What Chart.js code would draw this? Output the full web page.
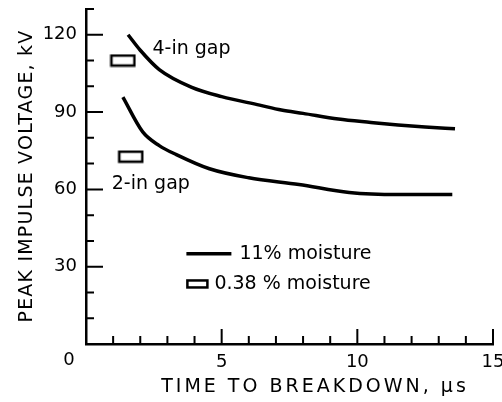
<!DOCTYPE html>
<html>
<head>
<meta charset="utf-8">
<script src="https://cdn.jsdelivr.net/npm/chart.js@4.4.1/dist/chart.umd.min.js"></script>
<style>
  html, body { margin: 0; padding: 0; background: #fff; }
</style>
</head>
<body>
<canvas id="chart" width="502" height="402"></canvas>
<script>
// 11% moisture curves
const gap4Time = [1.55, 2.0, 2.7, 3.9, 5.0, 6.4, 7.2, 8.0, 9.3, 10.5, 11.5, 12.5, 13.6];
const gap4Volt = [120, 114, 106.5, 99.6, 96, 92.7, 90.8, 89.5, 87.3, 86, 85, 84.2, 83.5];
const gap2Time = [1.36, 2.09, 2.7, 3.33, 4.55, 6.0, 7.85, 9.7, 11.5, 13.5];
const gap2Volt = [95.8, 82.3, 77, 73.5, 68, 64.5, 61.9, 58.8, 58, 58];
// 0.38% moisture points
const dryTime = [1.36, 1.65];
const dryVolt = [110, 72.7];
// axis labels
const xLabelValues = [5, 10, 15];
const yLabelValues = [30, 60, 90, 120];

const toPts = (xs, ys) => xs.map((x, i) => ({x: x, y: ys[i]}));

function rectMarker(w, h) {
    const c = document.createElement('canvas');
    c.width = w + 4;
    c.height = h + 4;
    const g = c.getContext('2d');
    g.lineWidth = 2.5;
    g.strokeStyle = '#000';
    g.strokeRect(2, 2, w, h);
    return c;
}

Chart.defaults.font.family = 'DejaVu Sans';
Chart.defaults.color = '#000';

// ticks point inward, like the original plot
const innerTicks = {
    id: 'innerTicks',
    afterDraw(chart) {
        const ctx = chart.ctx;
        const xs = chart.scales.x, ys = chart.scales.y;
        const left = xs.left, bottom = ys.bottom;
        ctx.save();
        ctx.strokeStyle = '#000';
        ctx.lineWidth = 2;
        ctx.beginPath();
        for (let v = 1; v <= 15; v++) {
            const px = xs.getPixelForValue(v);
            const len = v % 5 === 0 ? 15 : 8;
            ctx.moveTo(px, bottom);
            ctx.lineTo(px, bottom - len);
        }
        for (let v = 10; v <= 130; v += 10) {
            const py = ys.getPixelForValue(v);
            const len = v % 30 === 0 ? 17 : 8;
            ctx.moveTo(left, py);
            ctx.lineTo(left + len, py);
        }
        ctx.stroke();
        ctx.restore();
    }
};

const extras = {
    id: 'extras',
    afterDraw(chart) {
        const ctx = chart.ctx;
        const xs = chart.scales.x, ys = chart.scales.y;
        const a = chart.chartArea;
        ctx.save();
        ctx.strokeStyle = '#000';
        ctx.fillStyle = '#000';
        // origin label
        ctx.font = '18px "DejaVu Sans"';
        ctx.textAlign = 'center';
        ctx.textBaseline = 'middle';
        ctx.fillText('0', xs.getPixelForValue(0) - 17, a.bottom + 16);

        // curve labels
        ctx.font = '19px "DejaVu Sans"';
        ctx.textAlign = 'left';
        ctx.fillText('4-in gap', xs.getPixelForValue(2.45), ys.getPixelForValue(114.5));
        ctx.fillText('2-in gap', xs.getPixelForValue(0.95), ys.getPixelForValue(62));

        // legend
        const lx = xs.getPixelForValue(3.7);
        const ly1 = ys.getPixelForValue(35);
        ctx.lineWidth = 3.5;
        ctx.beginPath();
        ctx.moveTo(lx, ly1);
        ctx.lineTo(lx + 45, ly1);
        ctx.stroke();
        ctx.fillText('11% moisture', lx + 53, ly1);
        const ly2 = ys.getPixelForValue(23.3);
        ctx.lineWidth = 2.5;
        ctx.strokeRect(lx + 1, ly2 - 3.5, 20, 7);
        ctx.fillText('0.38 % moisture', lx + 28, ly2);

        // axis titles
        ctx.font = '19px "DejaVu Sans"';
        ctx.letterSpacing = '3px';
        ctx.textAlign = 'center';
        ctx.fillText('TIME TO BREAKDOWN, \u03bcs', 315, 387);
        ctx.letterSpacing = '1.2px';
        ctx.translate(27, 176);
        ctx.rotate(-Math.PI / 2);
        ctx.fillText('PEAK IMPULSE VOLTAGE, kV', 0, 0);
        ctx.restore();
    }
};

new Chart(document.getElementById('chart'), {
    type: 'line',
    data: {
        datasets: [{
            label: '4-in gap',
            data: toPts(gap4Time, gap4Volt),
            borderColor: '#000',
            borderWidth: 3.5,
            pointRadius: 0,
            cubicInterpolationMode: 'monotone',
            fill: false
        }, {
            label: '2-in gap',
            data: toPts(gap2Time, gap2Volt),
            borderColor: '#000',
            borderWidth: 3.5,
            pointRadius: 0,
            cubicInterpolationMode: 'monotone',
            fill: false
        }, {
            label: '0.38 % moisture',
            data: toPts(dryTime, dryVolt),
            showLine: false,
            pointStyle: rectMarker(23, 10),
            pointRadius: 8,
            borderColor: '#000',
            backgroundColor: '#fff'
        }]
    },
    options: {
        responsive: false,
        animation: false,
        layout: {padding: {top: 6, right: 7, left: 0, bottom: 0}},
        plugins: {
            legend: {display: false},
            tooltip: {enabled: false}
        },
        scales: {
            x: {
                type: 'linear',
                min: 0,
                max: 15,
                afterFit: s => { s.height = 58; s.paddingLeft = 0; s.paddingRight = 0; },
                grid: {drawOnChartArea: false, drawTicks: false, color: 'rgba(0,0,0,0)'},
                border: {display: true, color: '#000', width: 2.5},
                ticks: {
                    stepSize: 5,
                    padding: 8,
                    font: {size: 18},
                    callback: v => xLabelValues.includes(v) ? String(v) : ''
                }
            },
            y: {
                min: 0,
                max: 130,
                afterFit: s => { s.width = 86; s.paddingTop = 0; s.paddingBottom = 0; },
                grid: {drawOnChartArea: false, drawTicks: false, color: 'rgba(0,0,0,0)'},
                border: {display: true, color: '#000', width: 2.5},
                ticks: {
                    stepSize: 10,
                    padding: 9,
                    font: {size: 18},
                    callback: v => yLabelValues.includes(v) ? String(v) : ''
                }
            }
        }
    },
    plugins: [innerTicks, extras]
});
</script>
</body>
</html>
